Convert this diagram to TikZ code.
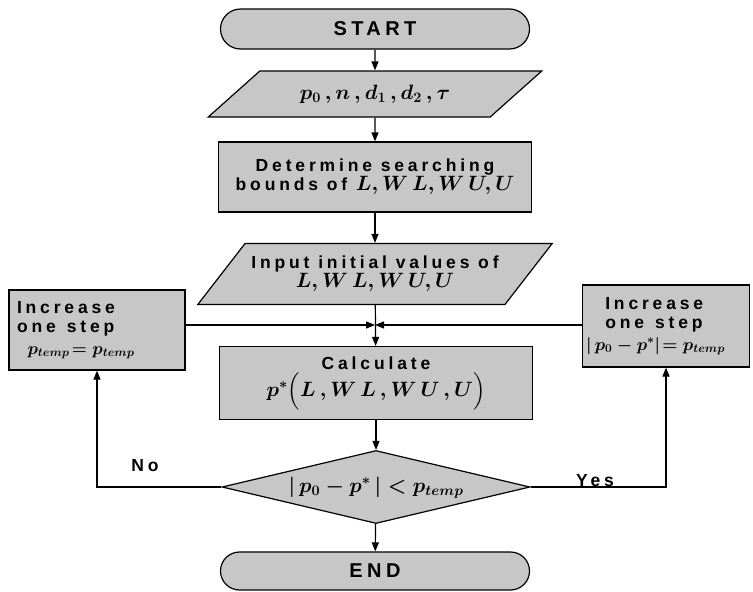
\documentclass[tikz,border=0pt]{standalone}
\usepackage{fontspec}
\usepackage{amsmath}
\newfontfamily\lbl[LetterSpace=22]{Liberation Sans}
\newcommand\mth[1]{{\fontsize{20.74}{24}\selectfont$#1$}}
\newcommand\mths[1]{{\fontsize{17.28}{20}\selectfont$#1$}}
\usetikzlibrary{arrows.meta,shapes.geometric,shapes.misc}

\begin{document}
\begin{tikzpicture}[x=1pt, y=-1pt, >={Triangle[length=9pt,width=7pt]},
  line width=1.2pt,
  every node/.style={font=\lbl\bfseries\boldmath\fontsize{17.5}{19}\selectfont, inner sep=2pt},
  big/.style={font=\lbl\bfseries\fontsize{20}{22}\selectfont},
  term/.style={rounded rectangle, draw, fill=black!22, minimum width=313pt, minimum height=40pt, big},
  io/.style={trapezium, draw, fill=black!22, trapezium stretches=true, align=center},
  proc/.style={rectangle, draw, fill=black!22, align=center, minimum width=313pt},
  decide/.style={diamond, draw, fill=black!22, minimum width=308pt, minimum height=73pt,
    inner sep=0pt, text height=0pt, text depth=0pt},
  sidebox/.style={rectangle, draw, fill=black!22, align=left, text width=160pt}]
  \useasboundingbox (0,0) rectangle (753,592);
  % main column
  \node[term] (start) at (375,29) {START};
  \node[io, trapezium left angle=33, trapezium right angle=147,
        minimum width=334pt, minimum height=46pt] (param) at (375,94)
        {\mth{p_0\,, n\,, d_1\,, d_2\,, \tau}};
  \node[proc, minimum height=70pt] (bounds) at (375,177)
        {Determine searching\\bounds of \mth{L,W\,L,W\,U,U}};
  \node[io, trapezium left angle=41, trapezium right angle=139,
        minimum width=355pt, minimum height=61pt] (init) at (375,274)
        {Input initial values of\\\mth{L,W\,L,W\,U,U}};
  \coordinate (jn) at (375,325);
  \node[proc, minimum height=73pt] (calc) at (376,383)
        {Calculate\\[2pt]\mth{p^{*}\Big(L\,,W\,L\,,W\,U\,,U\Big)}};
  \node[decide] (test) at (376,487)
        {\makebox[0pt]{\raisebox{-5pt}{\mth{|\,p_0 - p^{*}\,| < p_{temp}}}}};
  \node[term, minimum height=38pt] (stop) at (375,571) {END};
  % side boxes
  \node[sidebox, minimum width=176pt, minimum height=80pt] (incl) at (97,330)
        {Increase\\one\hspace{0.3em} step\\[3pt]\hspace*{0.6em}\mths{p_{temp}\!= p_{temp}}};
  \node[sidebox, minimum width=167pt, minimum height=82pt] (incr) at (666,326)
        {\hspace*{1.1em}Increase\\\hspace*{1.1em}one\hspace{0.3em} step\\[3pt]\mths{|\,p_0 - p^{*}|\! = p_{temp}}};
  % connectors
  \draw[->] (start) -- (param);
  \draw[->] (param) -- (bounds);
  \draw[->] (bounds) -- (init);
  \draw[->] (init) -- (calc);
  \draw[->] (calc) -- (test);
  \draw[->] (test) -- (stop);
  \draw[->] (incl.east |- jn) -- (jn);
  \draw[->] (incr.west |- jn) -- (jn);
  \draw[->] (test.west) -| (incl.south);
  \draw[->] (test.east) -| (incr.south);
  \node (no) at (145,466) {No};
  \node (yes) at (595,481) {Yes};
\end{tikzpicture}
\end{document}
